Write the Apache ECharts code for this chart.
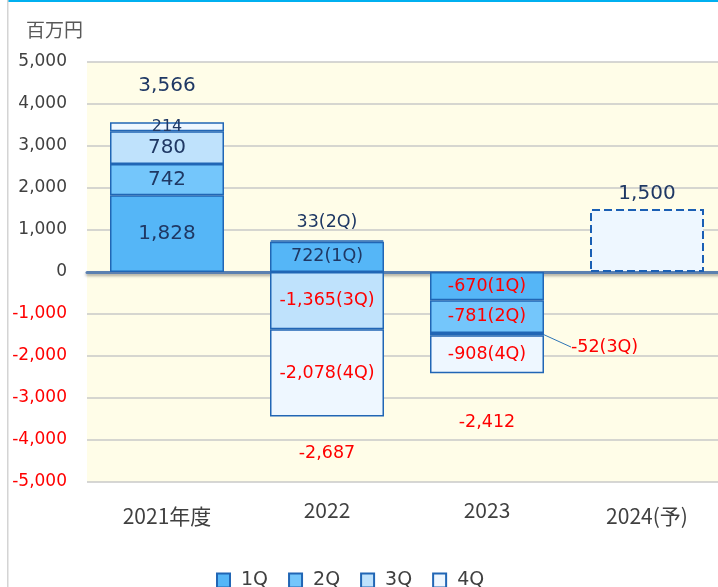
<!DOCTYPE html>
<html>
<head>
<meta charset="utf-8">
<script src="https://cdn.jsdelivr.net/npm/echarts@6/dist/echarts.min.js"></script>
<style>
html, body { margin: 0; padding: 0; background: #fff; }
#chart { width: 718px; height: 587px; }
</style>
</head>
<body>
<div id="chart"></div>
<script>
// 業績推移（百万円）
var categories = ["2021年度", "2022", "2023", "2024(予)"];
var quarters = ["1Q", "2Q", "3Q", "4Q"];
var q1 = [1828, 722, -670, null];
var q2 = [742, 33, -781, null];
var q3 = [780, -1365, -52, null];
var q4 = [214, -2078, -908, 1500];
var totals = [3566, -2687, -2412, 1500];
var yMin = -5000, yMax = 5000, yStep = 1000;

var NAVY = "#1f3864";
var RED = "#ff0000";
var BORDER = "#2166b5";
var colors = ["#55b6f7", "#74c6fb", "#bfe2fc", "#eef7ff"];
var quarterData = [q1, q2, q3, q4];

function fmt(v) {
    return Number(v).toLocaleString("en-US");
}

// 年度ごとの文字サイズ
var sizeByYear = [20, 17.5, 17.5, 20];

function quarterSeries(qi) {
    var name = quarters[qi];
    var data = quarterData[qi].map(function (v, i) {
        if (v === null) return "-";
        var item = {
            value: v,
            label: {
                color: v < 0 ? RED : NAVY,
                fontSize: sizeByYear[i]
            }
        };
        if (i === 3) {
            // 予想は破線
            item.itemStyle = { borderType: "dashed", borderWidth: 2, borderColor: "#1a5fb4" };
            item.label.show = false;
        }
        if (qi === 3 && i === 0) item.label.fontSize = 16;
        if (qi === 1 && i === 1) { item.label.position = "top"; item.label.distance = 9; }
        if (qi === 2 && i === 2) {
            item.label.position = "right";
            item.labelLine = { show: true, lineStyle: { color: "#2e75b6", width: 1 } };
        }
        return item;
    });
    return {
        name: name,
        type: "bar",
        stack: "q",
        barWidth: 114,
        itemStyle: { color: colors[qi], borderColor: BORDER, borderWidth: 1.5 },
        label: {
            show: true,
            position: "inside",
            fontFamily: "DejaVu Sans",
            formatter: function (p) {
                var s = fmt(p.value);
                if (p.dataIndex === 1 || p.dataIndex === 2) s += "(" + name + ")";
                return s;
            }
        },
        labelLayout: qi === 2 ? function (p) {
            if (p.dataIndex === 2) return { dx: 22, dy: 13 };
            return {};
        } : undefined,
        data: data
    };
}

function stackExtent(i) {
    var s = 0;
    quarterData.forEach(function (arr) {
        var v = arr[i];
        if (v === null) return;
        if (totals[i] >= 0 && v > 0) s += v;
        if (totals[i] < 0 && v < 0) s += v;
    });
    return s;
}

var totalOffsets = [-37, 37, 49, -15];

var series = quarters.map(function (q, qi) { return quarterSeries(qi); });
series.push({
    type: "scatter",
    symbolSize: 1,
    silent: true,
    itemStyle: { color: "rgba(0,0,0,0)", opacity: 1 },
    label: {
        show: true,
        position: "inside",
        fontFamily: "DejaVu Sans",
        formatter: function (p) { return fmt(totals[p.dataIndex]); }
    },
    data: totals.map(function (t, i) {
        return {
            value: [i, stackExtent(i)],
            label: {
                offset: [0, totalOffsets[i]],
                color: t < 0 ? RED : NAVY,
                fontSize: sizeByYear[i]
            }
        };
    }),
    z: 5
});

var chart = echarts.init(document.getElementById("chart"));
var option = {
    backgroundColor: "#fff",
    animation: false,
    title: {
        text: "百万円",
        left: 21,
        top: 15,
        textStyle: { fontFamily: "Noto Sans CJK JP", fontSize: 19, fontWeight: "normal", color: "#595959" }
    },
    graphic: [
        { type: "rect", left: 8, top: 0, shape: { width: 710, height: 2 }, style: { fill: "#00b0f0" } },
        { type: "rect", left: 7, top: 0, shape: { width: 1.5, height: 587 }, style: { fill: "#d4d4d4" } }
    ],
    legend: {
        data: quarters,
        top: 566,
        left: 211,
        icon: "rect",
        itemWidth: 13,
        itemHeight: 14,
        itemGap: 20,
        textStyle: { fontFamily: "DejaVu Sans", fontSize: 19, color: "#404040", padding: [0, 0, 0, 6] }
    },
    grid: {
        left: 87,
        width: 640,
        top: 62,
        bottom: 105,
        outerBoundsMode: "none",
        show: true,
        backgroundColor: "#fffde8",
        borderWidth: 0
    },
    xAxis: {
        type: "category",
        data: categories,
        axisTick: { show: false },
        axisLine: {
            onZero: true,
            lineStyle: {
                color: "#5b80b0",
                width: 3,
                shadowColor: "rgba(0,0,0,0.35)",
                shadowBlur: 3,
                shadowOffsetY: 2
            }
        },
        axisLabel: {
            margin: 18,
            formatter: function (v, i) {
                return (i === 0 || i === 3) ? "{lo|" + v + "}" : "{hi|" + v + "}";
            },
            rich: {
                lo: { fontFamily: "Noto Sans CJK JP", fontSize: 21, color: "#404040", padding: [6, 0, 0, 0] },
                hi: { fontFamily: "Noto Sans CJK JP", fontSize: 21, color: "#404040" }
            }
        }
    },
    yAxis: {
        type: "value",
        min: yMin,
        max: yMax,
        interval: yStep,
        axisLine: { show: false },
        axisTick: { show: false },
        splitLine: { lineStyle: { color: "#c8c8c8", width: 1.5 } },
        axisLabel: {
            margin: 20,
            fontFamily: "DejaVu Sans",
            fontSize: 17,
            color: function (v) { return v < 0 ? RED : "#404040"; },
            formatter: function (v) { return fmt(v); }
        }
    },
    series: series
};
chart.setOption(option);

window.onresize = function () {
    chart.resize();
};
</script>
</body>
</html>
